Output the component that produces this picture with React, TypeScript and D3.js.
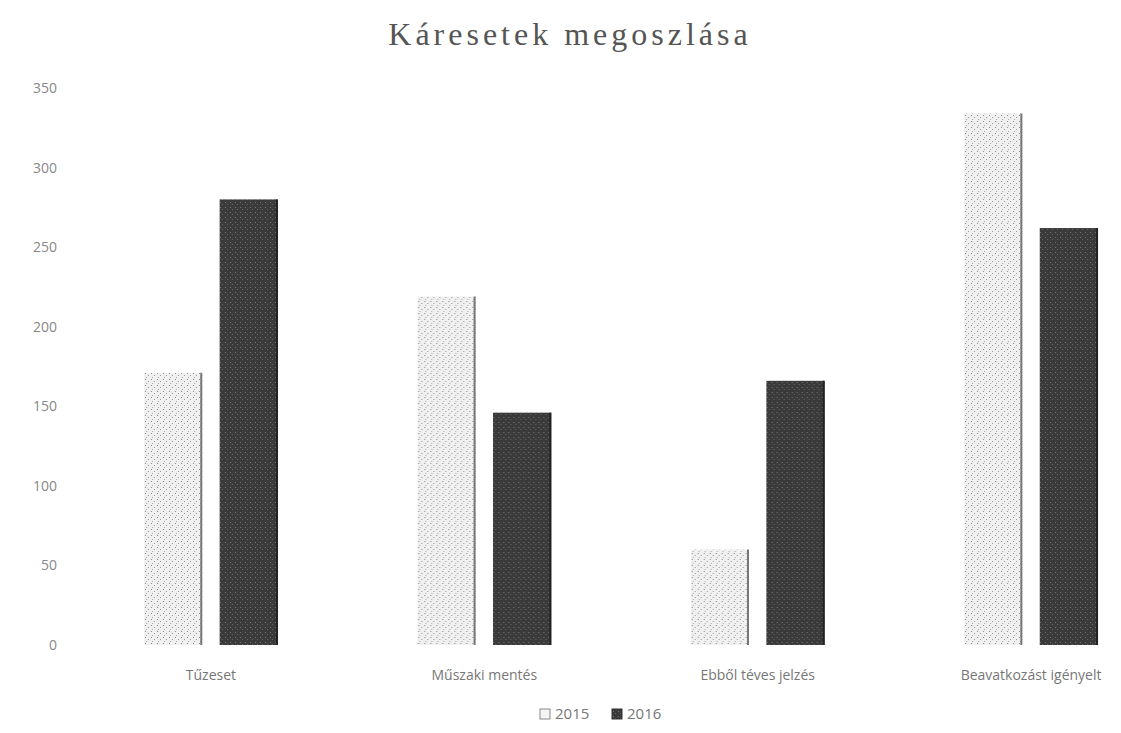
import React, { useEffect, useRef } from 'react';
import * as d3 from 'd3';

const categories = ['Tűzeset', 'Műszaki mentés', 'Ebből téves jelzés', 'Beavatkozást igényelt'];
const years = ['2015', '2016'];
const values2015 = [171, 219, 60, 334];
const values2016 = [280, 146, 166, 262];
const yTicks = [0, 50, 100, 150, 200, 250, 300, 350];

const width = 1121;
const height = 733;

const App: React.FC = () => {
  const ref = useRef<SVGSVGElement>(null);

  useEffect(() => {
    if (!ref.current) return;
    const svg = d3.select(ref.current);
    svg.selectAll('*').remove();

    const plotTop = 88;
    const plotBottom = 645;
    const step = 272;

    const x = d3
      .scaleBand<string>()
      .domain(categories)
      .range([213 - step / 2, 213 - step / 2 + step * 4])
      .paddingInner(0.51)
      .paddingOuter(0.245);

    const xSub = d3
      .scaleBand<string>()
      .domain(years)
      .range([0, x.bandwidth()])
      .paddingInner(0.23)
      .paddingOuter(0);

    const y = d3.scaleLinear().domain([0, 350]).range([plotBottom, plotTop]);

    const defs = svg.append('defs');
    const light = defs
      .append('pattern')
      .attr('id', 'p2015')
      .attr('width', 6)
      .attr('height', 6)
      .attr('patternUnits', 'userSpaceOnUse');
    light.append('rect').attr('width', 6).attr('height', 6).attr('fill', '#f0f0f0');
    light.append('rect').attr('x', 1).attr('y', 1).attr('width', 1).attr('height', 1).attr('fill', '#888');
    light.append('rect').attr('x', 4).attr('y', 3).attr('width', 1).attr('height', 1).attr('fill', '#999');
    light.append('rect').attr('x', 2).attr('y', 5).attr('width', 1).attr('height', 1).attr('fill', '#aaa');

    const dark = defs
      .append('pattern')
      .attr('id', 'p2016')
      .attr('width', 5)
      .attr('height', 5)
      .attr('patternUnits', 'userSpaceOnUse');
    dark.append('rect').attr('width', 5).attr('height', 5).attr('fill', '#3a3a3a');
    dark.append('rect').attr('x', 1).attr('y', 2).attr('width', 1).attr('height', 1).attr('fill', '#777');
    dark.append('rect').attr('x', 3).attr('y', 4).attr('width', 1).attr('height', 1).attr('fill', '#666');

    svg
      .append('text')
      .attr('x', 570)
      .attr('y', 45)
      .attr('text-anchor', 'middle')
      .attr('font-family', '"Liberation Serif", serif')
      .attr('font-size', 32)
      .attr('letter-spacing', 4)
      .attr('fill', '#555')
      .text('Káresetek megoszlása');

    const yAxis = svg
      .append('g')
      .attr('transform', `translate(57,0)`)
      .call(d3.axisLeft(y).tickValues(yTicks).tickSize(0).tickPadding(0));
    yAxis.select('.domain').remove();
    yAxis
      .selectAll('text')
      .attr('font-family', '"Open Sans", sans-serif')
      .attr('font-size', 14)
      .attr('fill', '#888');

    const xAxis = svg
      .append('g')
      .attr('transform', `translate(0,${plotBottom})`)
      .call(d3.axisBottom(x).tickSize(0).tickPadding(25));
    xAxis.select('.domain').remove();
    xAxis
      .selectAll('text')
      .attr('font-family', '"Open Sans", sans-serif')
      .attr('font-size', 14)
      .attr('fill', '#777');

    const series = [values2015, values2016];
    const groups = svg
      .append('g')
      .selectAll('g')
      .data(categories)
      .enter()
      .append('g')
      .attr('transform', c => `translate(${x(c)},0)`);

    groups
      .selectAll('rect')
      .data((_, i) => years.map((yr, s) => ({ yr, v: series[s][i] })))
      .enter()
      .append('rect')
      .attr('x', d => xSub(d.yr) as number)
      .attr('y', d => y(d.v))
      .attr('width', xSub.bandwidth())
      .attr('height', d => plotBottom - y(d.v))
      .attr('fill', d => (d.yr === '2015' ? 'url(#p2015)' : 'url(#p2016)'));

    groups
      .selectAll('line')
      .data((_, i) => years.map((yr, s) => ({ yr, v: series[s][i] })))
      .enter()
      .append('line')
      .attr('x1', d => (xSub(d.yr) as number) + xSub.bandwidth() - 1)
      .attr('x2', d => (xSub(d.yr) as number) + xSub.bandwidth() - 1)
      .attr('y1', d => y(d.v))
      .attr('y2', plotBottom)
      .attr('stroke', d => (d.yr === '2015' ? '#777' : '#222'))
      .attr('stroke-width', 2);

    const legend = svg.append('g').attr('transform', `translate(540,719)`);
    const items = legend
      .selectAll('g')
      .data(years)
      .enter()
      .append('g')
      .attr('transform', (_, i) => `translate(${i * 72},0)`);
    items
      .append('rect')
      .attr('x', 0)
      .attr('y', -10)
      .attr('width', 10)
      .attr('height', 10)
      .attr('fill', (_, i) => (i === 0 ? '#f5f5f5' : 'url(#p2016)'))
      .attr('stroke', (_, i) => (i === 0 ? '#888' : '#333'));
    items
      .append('text')
      .attr('x', 15)
      .attr('y', 0)
      .attr('font-family', '"Open Sans", sans-serif')
      .attr('font-size', 15)
      .attr('fill', '#777')
      .text(d => d);
  }, []);

  return <svg ref={ref} width={width} height={height} style={{ display: 'block', margin: -8 }} />;
};

export default App;
